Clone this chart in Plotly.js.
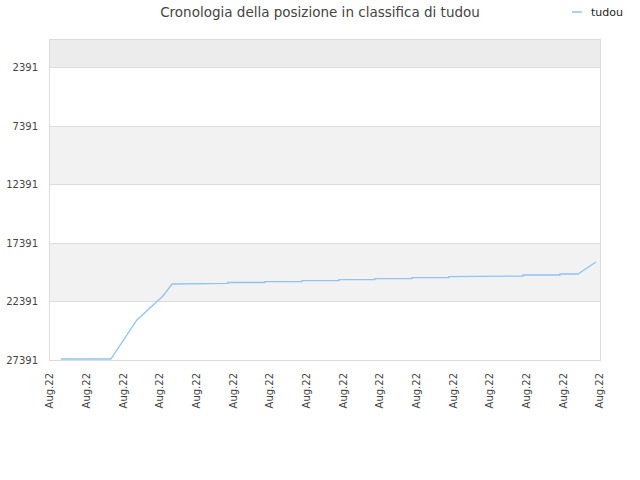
<!DOCTYPE html>
<html>
<head>
<meta charset="utf-8">
<script src="https://cdn.plot.ly/plotly-3.0.1.min.js"></script>
<style>
  body { margin: 0; background: #fff; }
  #rank_plot { width: 640px; height: 480px; }
</style>
</head>
<body>
<div id="rank_plot"></div>
<script>
// time axis in label steps (one step per "Aug.22" tick)
const tick_pos = [0, 1, 2, 3, 4, 5, 6, 7, 8, 9, 10, 11, 12, 13, 14, 15]
const tick_text = tick_pos.map(() => "Aug.22")

const rank_ticks = [2391, 7391, 12391, 17391, 22391, 27391]

// ranking of tudou
const days = [0.30, 1.66, 2.37, 3.08, 3.33, 3.85, 3.85, 4.85, 4.85, 5.86, 5.86, 6.87, 6.87,
    7.88, 7.88, 8.86, 8.86, 9.87, 9.87, 10.88, 10.88, 11.89, 11.89, 12.90, 12.90,
    13.91, 13.91, 14.40, 14.89]
const ranks = [27305, 27305, 23966, 21912, 20885, 20885, 20825, 20825, 20756, 20756, 20688, 20688, 20602,
    20602, 20517, 20517, 20431, 20431, 20346, 20346, 20260, 20260, 20200, 20200, 20114,
    20114, 20029, 20029, 19001]

function initial_load()
{
    const font = "DejaVu Sans, sans-serif"

    // alternating background bands between the rank ticks
    const band_edges = [0].concat(rank_ticks)
    const band_colors = ["#ececec", "#ffffff", "#f2f2f2", "#ffffff", "#f2f2f2", "#ffffff"]
    let shapes = []
    for (let i = 0; i < band_edges.length - 1; i++) {
        shapes.push({
            type: 'rect', xref: 'paper', yref: 'y', layer: 'below',
            x0: 0, x1: 1, y0: band_edges[i], y1: band_edges[i + 1],
            fillcolor: band_colors[i], line: { width: 0 }
        })
    }

    const data = [{
        x: days,
        y: ranks,
        name: "tudou",
        mode: 'lines',
        line: { color: '#90c4f4', width: 1.3 }
    }]

    const layout = {
        width: 640,
        height: 480,
        paper_bgcolor: '#ffffff',
        plot_bgcolor: '#ffffff',
        margin: { l: 50, r: 40, t: 40, b: 120, autoexpand: false },
        font: { family: font, size: 10, color: '#444' },
        title: {
            text: "Cronologia della posizione in classifica di tudou",
            font: { family: font, size: 13.5, color: '#444' },
            x: 0.5, xref: 'container', y: 0.975, yanchor: 'middle'
        },
        showlegend: true,
        legend: {
            x: 551 / 640, xref: 'container', xanchor: 'left',
            y: 0.975, yref: 'container', yanchor: 'middle',
            font: { family: font, size: 11, color: '#222' },
            bgcolor: 'rgba(0,0,0,0)'
        },
        xaxis: {
            range: [0, 15],
            tickmode: 'array',
            tickvals: tick_pos,
            ticktext: tick_text,
            tickangle: -90,
            ticklabelstandoff: 8,
            showgrid: false,
            zeroline: false,
            showline: true,
            linecolor: '#dddddd',
            mirror: true,
            ticks: '',
            tickfont: { family: font, size: 10, color: '#444' }
        },
        yaxis: {
            range: [27391, 0],
            tickmode: 'array',
            tickvals: rank_ticks,
            ticktext: rank_ticks.map(String),
            ticklabelstandoff: 9,
            showgrid: true,
            gridcolor: '#dddddd',
            zeroline: false,
            showline: true,
            linecolor: '#dddddd',
            mirror: true,
            ticks: '',
            tickfont: { family: font, size: 10, color: '#444' }
        },
        shapes: shapes
    }

    const plot = document.getElementById("rank_plot")
    Plotly.newPlot(plot, data, layout, { displaylogo: false, displayModeBar: false, staticPlot: true })
        .then(() => {
            // legend swatch in the reference is a short dash just before the name
            for (const p of plot.querySelectorAll('.legendlines path')) {
                p.setAttribute('d', 'M21,0h10')
            }
        })
}

initial_load()
</script>
</body>
</html>
